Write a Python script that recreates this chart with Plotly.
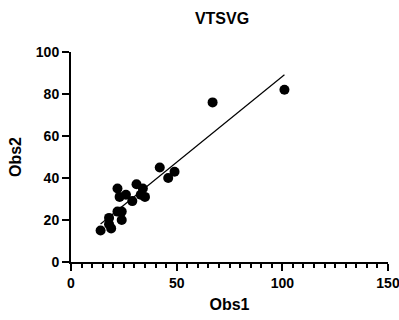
import numpy as np
import plotly.graph_objects as go

obs1 = [14, 18, 18, 19, 22, 23, 22, 24, 24, 26, 29, 31, 34, 33, 35, 42, 46, 49, 67, 101]
obs2 = [15, 21, 18, 16, 35, 31, 24, 24, 20, 32, 29, 37, 35, 32, 31, 45, 40, 43, 76, 82]
x_ticks = [0, 50, 100, 150]
y_ticks = [0, 20, 40, 60, 80, 100]

slope, intercept = np.polyfit(obs1, obs2, 1)
fx = [min(obs1), max(obs1)]
fy = [slope * v + intercept for v in fx]

FONT = "Liberation Sans"
W, H = 399, 320

fig = go.Figure()
fig.add_trace(go.Scatter(x=fx, y=fy, mode="lines",
                         line=dict(color="black", width=1.2), showlegend=False))
fig.add_trace(go.Scatter(x=obs1, y=obs2, mode="markers",
                         marker=dict(color="black", size=10), showlegend=False))

fig.update_layout(
    width=W, height=H,
    margin=dict(l=71, r=11, t=52, b=58),
    paper_bgcolor="white", plot_bgcolor="white",
    font=dict(family=FONT, color="black"),
    title=dict(text="<b>VTSVG</b>", x=222 / W, xanchor="center", y=1 - 18.5 / H, yanchor="middle",
               font=dict(size=16, family=FONT, color="black")),
    xaxis=dict(range=[0, 150], tickvals=x_ticks, ticktext=["<b>%d</b>" % v for v in x_ticks],
               showgrid=False, zeroline=False, showline=True, linecolor="black", linewidth=2,
               ticks="outside", ticklen=7, tickwidth=2, tickcolor="black",
               minor=dict(dtick=5, ticks="outside", ticklen=4, tickwidth=1.5, tickcolor="black"),
               tickfont=dict(size=14, family=FONT), automargin=False, ticklabeloverflow="allow",
               title=dict(text="<b>Obs1</b>", font=dict(size=16, family=FONT), standoff=9)),
    yaxis=dict(range=[0, 100], tickvals=y_ticks, ticktext=["<b>%d</b>" % v for v in y_ticks],
               showgrid=False, zeroline=False, showline=True, linecolor="black", linewidth=2,
               ticks="outside", ticklen=7, tickwidth=2, tickcolor="black",
               tickfont=dict(size=14, family=FONT), automargin=False, ticklabeloverflow="allow",
               title=dict(text="<b>Obs2</b>", font=dict(size=16, family=FONT), standoff=10)),
)
fig.write_html("out.html", config={"displayModeBar": False},
               post_script="document.body.style.margin='0px';document.body.style.overflow='hidden';")
